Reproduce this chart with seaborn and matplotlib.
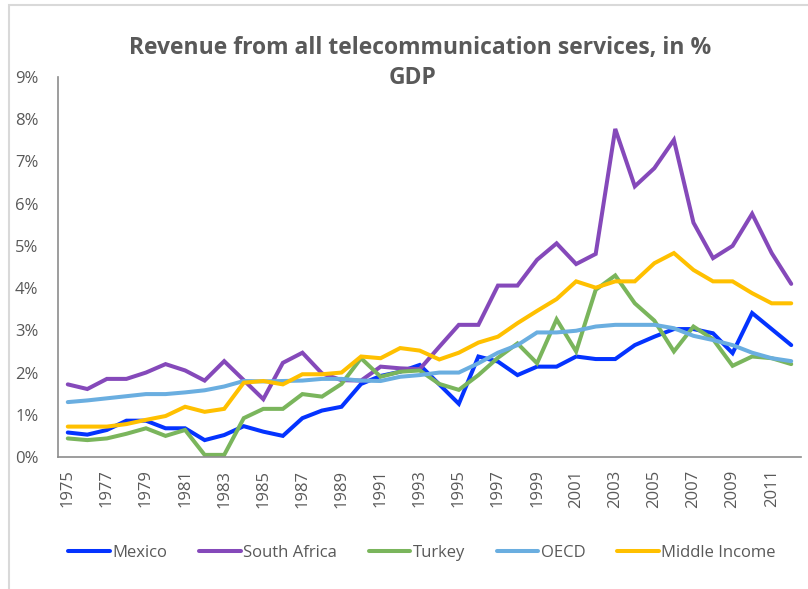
import matplotlib
matplotlib.use("Agg")
import matplotlib.pyplot as plt
import pandas as pd
import seaborn as sns
from matplotlib.patches import Rectangle

YEARS = list(range(1975, 2013))

MEXICO = [0.58, 0.53, 0.64, 0.86, 0.86, 0.68, 0.68, 0.40, 0.52, 0.73,
          0.60, 0.50, 0.92, 1.10, 1.19, 1.73, 1.92, 2.02, 2.18, 1.72,
          1.26, 2.38, 2.26, 1.94, 2.14, 2.14, 2.38, 2.32, 2.32, 2.65,
          2.85, 3.03, 3.03, 2.93, 2.46, 3.41, 3.03, 2.65]
SOUTH_AFRICA = [1.72, 1.61, 1.85, 1.85, 2.00, 2.20, 2.05, 1.81, 2.27, 1.82,
                1.37, 2.23, 2.47, 1.98, 1.82, 1.81, 2.14, 2.10, 2.08, 2.61,
                3.13, 3.13, 4.06, 4.06, 4.67, 5.06, 4.57, 4.81, 7.77, 6.41,
                6.84, 7.51, 5.55, 4.71, 5.00, 5.76, 4.83, 4.10]
TURKEY = [0.44, 0.40, 0.44, 0.55, 0.68, 0.50, 0.64, 0.05, 0.05, 0.92,
          1.14, 1.14, 1.49, 1.43, 1.73, 2.34, 1.90, 2.02, 2.05, 1.73,
          1.59, 1.94, 2.35, 2.69, 2.22, 3.26, 2.50, 3.96, 4.30, 3.64,
          3.23, 2.50, 3.09, 2.79, 2.16, 2.38, 2.34, 2.20]
OECD = [1.30, 1.34, 1.39, 1.44, 1.49, 1.49, 1.53, 1.58, 1.67, 1.80,
        1.79, 1.80, 1.81, 1.85, 1.85, 1.81, 1.80, 1.90, 1.94, 2.00,
        2.00, 2.22, 2.47, 2.65, 2.95, 2.95, 2.99, 3.09, 3.13, 3.13,
        3.13, 3.05, 2.87, 2.77, 2.65, 2.47, 2.34, 2.27]
MIDDLE_INCOME = [0.72, 0.72, 0.72, 0.78, 0.88, 0.97, 1.19, 1.07, 1.14, 1.76,
                 1.80, 1.72, 1.96, 1.96, 2.00, 2.38, 2.34, 2.58, 2.52, 2.31,
                 2.47, 2.71, 2.85, 3.17, 3.46, 3.74, 4.16, 4.01, 4.16, 4.16,
                 4.59, 4.83, 4.43, 4.16, 4.16, 3.88, 3.64, 3.64]

SERIES = ["Mexico", "South Africa", "Turkey", "OECD", "Middle Income"]
COLORS = ["#0433ff", "#8549ba", "#7ab55c", "#6aaee0", "#ffc000"]
TICK_YEARS = list(range(1975, 2012, 2))
Y_TICKS = list(range(0, 10))

GREY = "#595959"
W, H = 808, 589

sns.set_style("white")
plt.rcParams["font.family"] = ["Open Sans", "DejaVu Sans"]

df = pd.DataFrame({"year": YEARS, "Mexico": MEXICO, "South Africa": SOUTH_AFRICA,
                   "Turkey": TURKEY, "OECD": OECD, "Middle Income": MIDDLE_INCOME})
long = df.melt(id_vars="year", var_name="series", value_name="v")

fig = plt.figure(figsize=(W / 100, H / 100), dpi=100)
ax = fig.add_axes([58 / W, 1 - 457 / H, (801 - 58) / W, (457 - 77) / H])

sns.lineplot(data=long, x="year", y="v", hue="series", hue_order=SERIES,
             palette=dict(zip(SERIES, COLORS)), linewidth=2.9, ax=ax,
             solid_joinstyle="miter")

ax.set_xlim(YEARS[0] - 0.5, YEARS[-1] + 0.5)
ax.set_ylim(0, 9)
ax.set_xticks(TICK_YEARS)
ax.set_xticklabels([str(y) for y in TICK_YEARS], rotation=90, fontsize=12,
                   color=GREY)
ax.set_yticks(Y_TICKS)
ax.set_yticklabels([f"{t}%" for t in Y_TICKS], fontsize=12, color=GREY)
ax.tick_params(axis="both", length=0)
ax.tick_params(axis="x", pad=9)
ax.tick_params(axis="y", pad=14)
ax.set_xlabel("")
ax.set_ylabel("")
for side in ["top", "right"]:
    ax.spines[side].set_visible(False)
for side in ["left", "bottom"]:
    ax.spines[side].set_color("#8c8c8c")
    ax.spines[side].set_linewidth(1.2)

ax.legend(loc="center", bbox_to_anchor=(422 / W, 1 - 553 / H), ncol=5,
          bbox_transform=fig.transFigure, frameon=False, fontsize=12,
          handlelength=2.5, handletextpad=0.15, columnspacing=1.9,
          labelcolor=GREY)

fig.text(420 / W, 1 - 54 / H, "Revenue from all telecommunication services, in %",
         ha="center", va="baseline", fontsize=16.5, fontweight="bold", color=GREY)
fig.text(412 / W, 1 - 84 / H, "GDP", ha="center", va="baseline", fontsize=16.5,
         fontweight="bold", color=GREY)

# chart-area border (only top and left visible in the reference)
fig.patches.append(Rectangle((9 / W, -0.1), 1.2, 1.1 - 5 / H,
                             transform=fig.transFigure, fill=False,
                             edgecolor="#d9d9d9", lw=1.5))

fig.savefig("out.png", dpi=100)
